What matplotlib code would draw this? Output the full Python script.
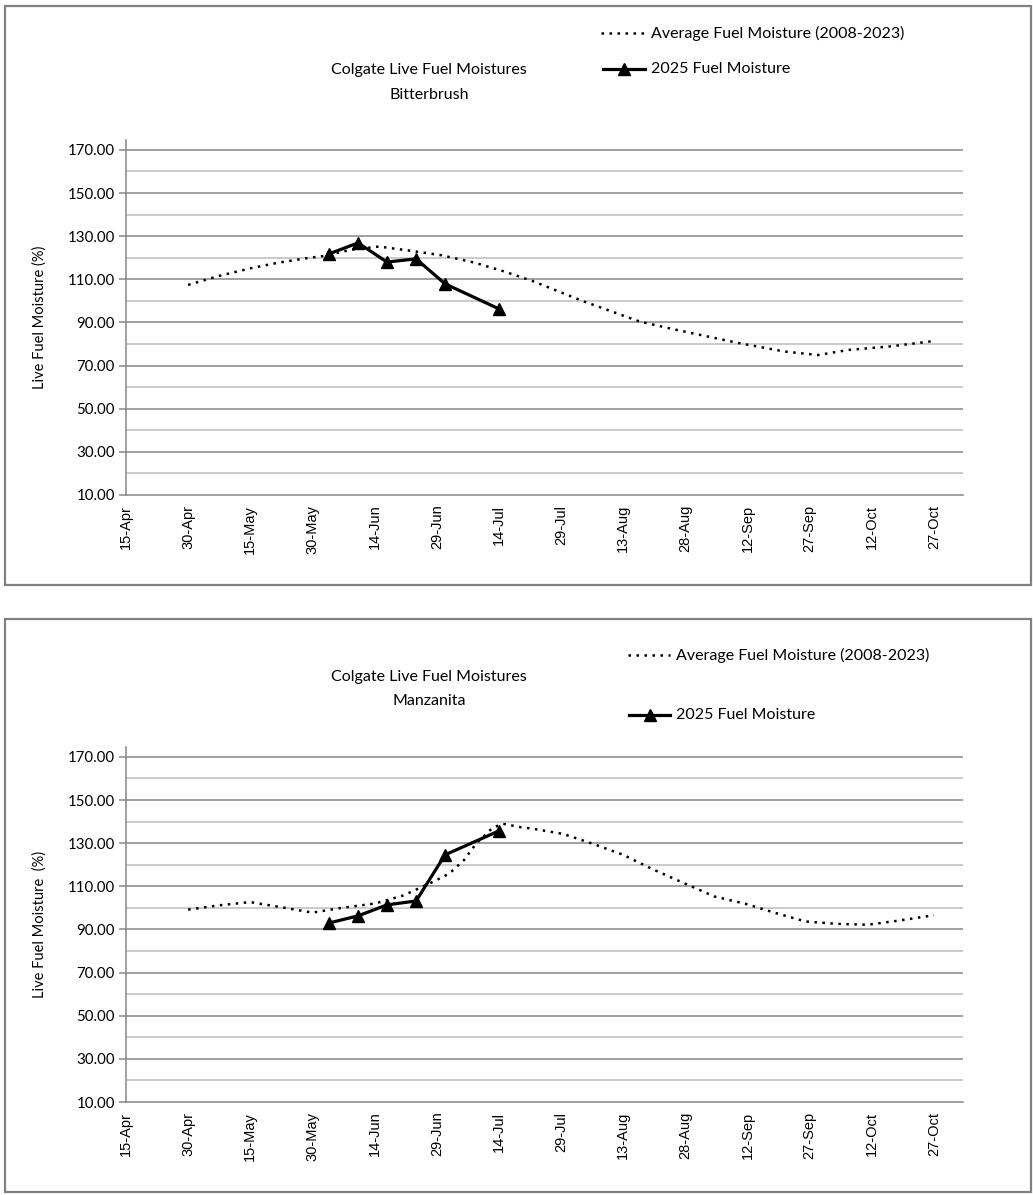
import matplotlib
matplotlib.use('Agg')
import matplotlib.pyplot as plt
from matplotlib.lines import Line2D
from matplotlib.patches import Rectangle

# days counted from 15-Apr
tick_days = [0, 15, 30, 45, 60, 75, 90, 105, 120, 135, 150, 165, 180, 195]
tick_labels = ['15-Apr', '30-Apr', '15-May', '30-May', '14-Jun', '29-Jun', '14-Jul',
               '29-Jul', '13-Aug', '28-Aug', '12-Sep', '27-Sep', '12-Oct', '27-Oct']

# Bitterbrush
bb_avg_day = [15, 22.5, 30, 37, 44, 48, 54, 61, 68.5, 76, 84, 91, 98, 110, 124, 133,
              148, 159, 167, 174.5, 184, 195]
bb_avg_val = [107.4, 111.6, 115.1, 117.8, 119.9, 120.9, 123.6, 125.2, 123.3, 121.2, 117.8,
              113.8, 109.3, 100.1, 90.4, 86.5, 80.4, 76.5, 74.9, 77.3, 78.8, 81.4]

# Manzanita
mz_avg_day = [15, 22.5, 30, 37.5, 45, 52, 60, 67, 70.5, 74, 78, 81.5, 84.5, 88.5, 91, 95,
              98.5, 105.5, 113, 120, 127, 135, 142, 149.5, 157, 164, 171.5, 179, 186.5, 195]
mz_avg_val = [99.2, 101.2, 102.7, 100.3, 97.8, 100.0, 102.0, 105.8, 108.9, 112.0, 115.9,
              122.0, 129.8, 137.2, 139.0, 137.5, 136.6, 134.3, 129.5, 124.6, 118.0, 111.2,
              105.3, 101.9, 97.5, 93.7, 92.6, 92.2, 94.1, 96.6]

# 2025 samples
days_2025 = [49, 56, 63, 70, 77, 90]
bb_2025 = [121.8, 126.9, 118.0, 119.5, 107.9, 96.3]
mz_2025 = [93.0, 96.3, 101.4, 103.2, 124.6, 135.7]

W, H = 1033, 1195
fig = plt.figure(figsize=(W / 100, H / 100), dpi=100)
plt.rcParams['font.family'] = ['Lato', 'DejaVu Sans']

GRID_DARK = '#868686'
GRID_LIGHT = '#bdbdbd'
avg_style = dict(color='black', linewidth=1.8, linestyle=(0, (1, 2.2)))
cur_style = dict(color='black', linewidth=2.3, marker='^', markersize=8)


def fx(px):
    return px / W


def fy(py):
    return 1 - py / H


def panel(top_px, bottom_px, frame, avg_day, avg_val, cur_val, species, ylab,
          title_y, leg1, leg2):
    fig.add_artist(Rectangle((fx(frame[0]), fy(frame[3])), fx(frame[2] - frame[0]),
                             (frame[3] - frame[1]) / H, transform=fig.transFigure,
                             fill=False, edgecolor='#808080', linewidth=1.6))
    ax = fig.add_axes([fx(126), fy(bottom_px), fx(963 - 126), (bottom_px - top_px) / H])
    for v in range(20, 171, 20):
        ax.axhline(v, color=GRID_LIGHT, linewidth=1.1, zorder=1)
    for v in range(30, 171, 20):
        ax.axhline(v, color=GRID_DARK, linewidth=1.1, zorder=1)
    ax.plot(avg_day, avg_val, zorder=3, **avg_style)
    ax.plot(days_2025, cur_val, zorder=4, **cur_style)
    ax.set_xlim(0, 202)
    ax.set_ylim(10, 174.6)
    ax.set_yticks(range(10, 171, 20))
    ax.set_yticklabels(['%.2f' % v for v in range(10, 171, 20)], fontsize=10.8)
    ax.set_xticks(tick_days)
    ax.set_xticklabels(tick_labels, rotation=90, fontsize=10.5,
                       family=['Liberation Sans', 'DejaVu Sans'])
    ax.tick_params(axis='x', length=0, pad=7)
    ax.tick_params(axis='y', length=5, width=1.1, color=GRID_DARK, pad=3)
    for s in ['top', 'right']:
        ax.spines[s].set_visible(False)
    ax.spines['left'].set_color(GRID_DARK)
    ax.spines['bottom'].set_color(GRID_DARK)
    ax.spines['left'].set_linewidth(1.1)
    ax.spines['bottom'].set_linewidth(1.1)
    ax.set_ylabel(ylab, fontsize=10.5)
    ax.yaxis.set_label_coords((47 - 126) / 837, 0.5)

    fig.text(fx(429), fy(title_y[0]), 'Colgate Live Fuel Moistures', ha='center',
             va='center', fontsize=11.5)
    fig.text(fx(429), fy(title_y[1]), species, ha='center', va='center', fontsize=11.5)

    # legend entries
    x0, x1, tx, y = leg1
    fig.add_artist(Line2D([fx(x0), fx(x1)], [fy(y), fy(y)], transform=fig.transFigure,
                          **avg_style))
    fig.text(fx(tx), fy(y), 'Average Fuel Moisture (2008-2023)', va='center', fontsize=11.5)
    x0, x1, tx, y = leg2
    fig.add_artist(Line2D([fx(x0), fx(x1)], [fy(y), fy(y)], transform=fig.transFigure,
                          color='black', linewidth=2.3))
    fig.add_artist(Line2D([fx((x0 + x1) / 2)], [fy(y)], transform=fig.transFigure,
                          color='black', marker='^', markersize=8, linestyle='none'))
    fig.text(fx(tx), fy(y), '2025 Fuel Moisture', va='center', fontsize=11.5)
    return ax


panel(140, 495, (5, 6, 1031, 585), bb_avg_day, bb_avg_val, bb_2025, 'Bitterbrush',
      'Live Fuel Moisture (%)', (70, 95), (601, 645, 651, 33), (603, 645, 651, 69))
panel(747, 1102, (5, 619, 1031, 1192), mz_avg_day, mz_avg_val, mz_2025, 'Manzanita',
      'Live Fuel Moisture  (%)', (677, 701), (628, 670, 676, 655), (629, 670, 676, 715))

fig.savefig('out.png', dpi=100)
